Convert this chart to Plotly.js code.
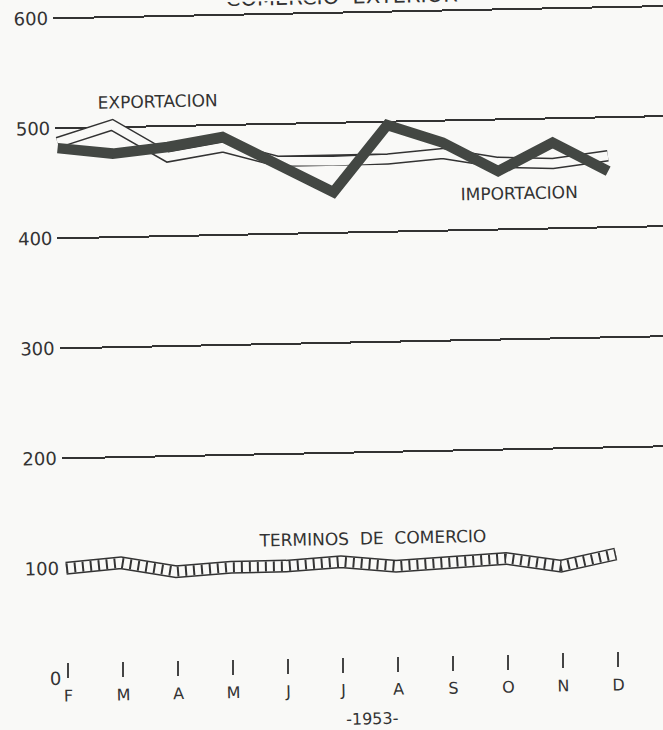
<!DOCTYPE html>
<html><head><meta charset="utf-8">
<script src="https://cdn.plot.ly/plotly-3.0.1.min.js"></script>
<style>
html,body{margin:0;padding:0;background:#f9f9f7;overflow:hidden;width:663px;height:730px;}
#chart{position:absolute;left:0;top:0;width:690px;height:750px;transform:rotate(-1.15deg);transform-origin:331.5px 365px;}
</style></head><body><div id="chart"></div>
<script>
// Month categories (1953, February to December)
const months = ['F','M','A','M','J','J','A','S','O','N','D'];
// Series values
const exportacion = [487, 502, 472, 480, 466, 465, 466, 470, 461, 459, 465];
const importacion = [482, 476, 481, 489, 463, 437, 497, 480, 453, 478, 451];
const terminos    = [100, 104,  95,  98,  98, 101,  96,  98, 101,  93, 103];
// Axis ticks
const yTicks = [0, 100, 200, 300, 400, 500, 600];
const gridTicks = [200, 300, 400, 500, 600];

const bg = '#f9f9f7';
const ink = '#333333';
const xs = months.map((m, i) => i);

const base = {x: xs, mode: 'lines', hoverinfo: 'skip', showlegend: false};
const traces = [
  Object.assign({}, base, {y: exportacion, line: {color: ink, width: 11.5}}),
  Object.assign({}, base, {y: exportacion, line: {color: bg, width: 8.5}}),
  Object.assign({}, base, {y: importacion, line: {color: '#434743', width: 10.5}}),
  Object.assign({}, base, {y: terminos, yaxis: 'y2', line: {color: ink, width: 13}}),
  Object.assign({}, base, {y: terminos, yaxis: 'y2', line: {color: bg, width: 10}}),
  Object.assign({}, base, {y: terminos, yaxis: 'y2', line: {color: ink, width: 10, dash: '2px,6px'}})
];

const yTop = 611.64;
const layout = {
  width: 690, height: 750,
  margin: {l: 60, r: 0, t: 0, b: 77.2},
  paper_bgcolor: bg, plot_bgcolor: bg,
  showlegend: false,
  font: {family: 'DejaVu Sans', color: ink, size: 16},
  xaxis: {
    range: [-0.0364, 11.418], tickvals: xs, ticktext: months,
    ticks: 'inside', ticklen: 15, tickwidth: 1.5, tickcolor: '#444',
    showgrid: false, zeroline: false, showline: false,
    tickfont: {size: 16, color: ink}, ticklabelstandoff: 6
  },
  yaxis: {
    range: [0, yTop], tickvals: gridTicks,
    showticklabels: false, showgrid: true, gridcolor: '#333333', gridwidth: 2,
    zeroline: false, showline: false, ticks: ''
  },
  yaxis2: {
    overlaying: 'y', side: 'left', range: [0, yTop], tickvals: yTicks, ticktext: yTicks.map(String),
    showgrid: false, zeroline: false, showline: false, ticks: '',
    tickfont: {size: 18, color: ink}, ticklabelstandoff: 4
  },
  annotations: [
    {text: 'COMERCIO\u00a0\u00a0EXTERIOR', xref: 'paper', yref: 'paper', x: 0.4587, y: 1,
     xanchor: 'center', yanchor: 'bottom', yshift: -11, showarrow: false, font: {size: 21, color: ink}},
    {text: 'EXPORTACION', xref: 'x', yref: 'y', x: 1.84, y: 523, showarrow: false, font: {size: 17, color: ink}},
    {text: 'IMPORTACION', xref: 'x', yref: 'y', x: 8.37, y: 432.8, showarrow: false, font: {size: 17, color: ink}},
    {text: 'TERMINOS\u00a0\u00a0DE\u00a0\u00a0COMERCIO', xref: 'x', yref: 'y', x: 5.59, y: 121.8, showarrow: false, font: {size: 17, color: ink}},
    {text: '-1953-', xref: 'x', yref: 'paper', x: 5.5, y: 0, yanchor: 'top', yshift: -35, showarrow: false, font: {size: 16, color: ink}}
  ]
};

Plotly.newPlot('chart', traces, layout, {staticPlot: true, displayModeBar: false});
</script>
</body></html>
